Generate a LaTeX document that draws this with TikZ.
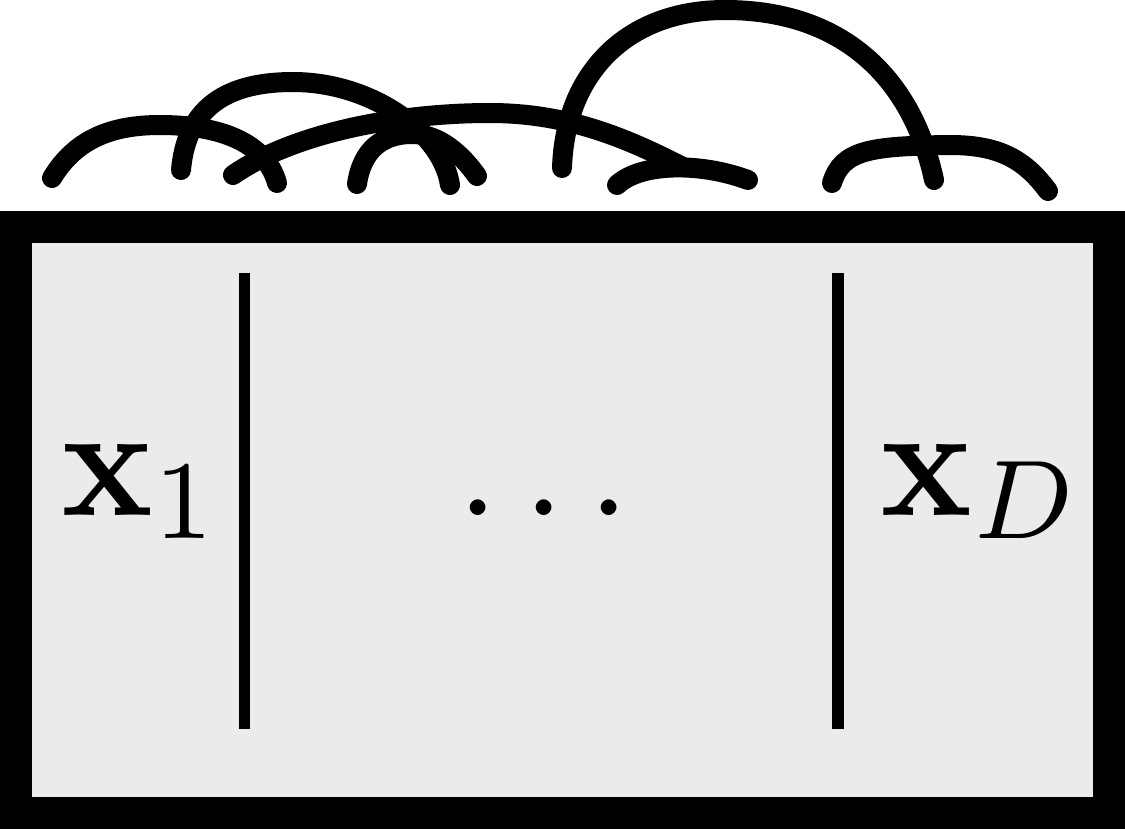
\documentclass[tikz,border=0pt]{standalone}
\usepackage{graphicx}
\definecolor{boxfill}{RGB}{235,235,235}
\begin{document}
\begin{tikzpicture}[x=0.5pt,y=-0.5pt,
  arcline/.style={line width=10pt,line cap=round,draw=black},
  sepline/.style={line width=5.75pt,draw=black},
  boxframe/.style={line width=16pt,draw=black,fill=boxfill},
  lab/.style={inner sep=0pt}]
\useasboundingbox (0,0) rectangle (1125,829);
% frame
\draw[boxframe] (16,227) rectangle (1109,813);
% separators
\draw[sepline] (244.5,273) -- (244.5,729);
\draw[sepline] (838,273) -- (838,729);
% labels
\node[lab,anchor=base west] (x1) at (61,515) {\scalebox{7.6}[8.0]{$\mathbf{x}_1$}};
\node[lab,anchor=base] (dots) at (544,515) {\scalebox{7.4}{$\ldots$}};
\node[lab,anchor=base west] (xD) at (880,515) {\scalebox{7.6}[8.0]{$\mathbf{x}_D$}};
% arcs
\draw[arcline] (52,178) .. controls (75,140) and (110,125) .. (160,125) .. controls (215,125) and (265,140) .. (277,183);
\draw[arcline] (181,170) .. controls (186,113) and (220,82) .. (293,82) .. controls (371,82) and (442,132) .. (450,185);
\draw[arcline] (233,175) .. controls (295,132) and (400,113) .. (490,113) .. controls (570,113) and (630,140) .. (683,167);
\draw[arcline] (357,184) .. controls (362,150) and (382,134) .. (412,134) .. controls (440,134) and (462,155) .. (477,176);
\draw[arcline] (562,168) .. controls (565,73) and (627,10) .. (725,10) .. controls (850,10) and (914,86) .. (934,180);
\draw[arcline] (617,185) .. controls (640,163) and (700,162) .. (748,180);
\draw[arcline] (832,183) .. controls (842,150) and (870,146) .. (950,145) .. controls (1000,145) and (1025,160) .. (1048,191);
\end{tikzpicture}
\end{document}
